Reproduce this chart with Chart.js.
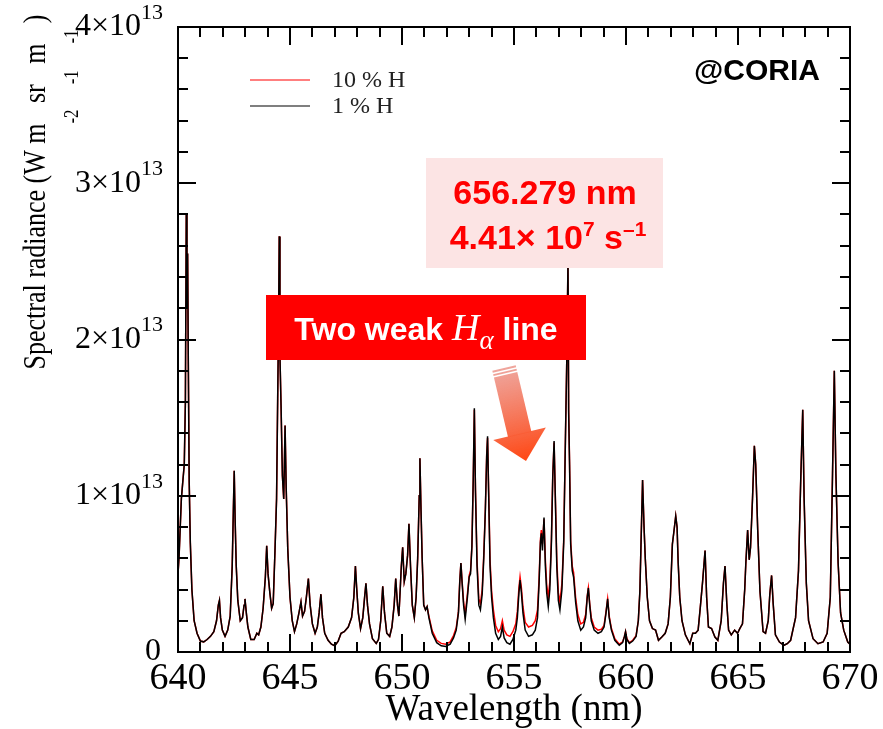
<!DOCTYPE html>
<html><head><meta charset="utf-8">
<script src="https://cdn.jsdelivr.net/npm/chart.js@4/dist/chart.umd.min.js"></script>
<style>html,body{margin:0;padding:0;background:#fff}#wrap{width:883px;height:729px;position:relative}</style>
</head><body><div id="wrap"><canvas id="c" width="883" height="729"></canvas></div>
<script>
// ---- data (wavelength in nm, radiance in units of 1e13 W m^-2 sr^-1 m^-1) ----
const wavelength = [
640.00,640.05,640.10,640.15,640.22,640.28,640.33,640.37,640.40,640.43,
640.46,640.50,640.55,640.62,640.72,640.85,641.00,641.15,641.30,641.45,
641.60,641.72,641.80,641.85,641.90,641.98,642.10,642.22,642.33,642.42,
642.47,642.51,642.55,642.60,642.67,642.78,642.88,642.95,642.99,643.05,
643.12,643.25,643.40,643.52,643.60,643.70,643.80,643.90,643.96,644.02,
644.10,644.18,644.25,644.33,644.40,644.45,644.49,644.52,644.55,644.60,
644.66,644.72,644.78,644.83,644.90,645.00,645.10,645.20,645.30,645.40,
645.49,645.56,645.65,645.73,645.82,645.90,646.00,646.12,646.22,646.30,
646.38,646.45,646.55,646.70,646.85,647.00,647.15,647.28,647.42,647.60,
647.75,647.85,647.92,647.98,648.05,648.15,648.25,648.33,648.39,648.46,
648.55,648.68,648.85,648.95,649.05,649.14,649.22,649.32,649.45,649.55,
649.65,649.72,649.80,649.86,649.92,649.97,650.03,650.10,650.17,650.25,
650.31,650.38,650.46,650.55,650.63,650.70,650.77,650.80,650.85,650.90,
650.97,651.05,651.12,651.20,651.35,651.55,651.75,651.95,652.15,652.30,
652.42,652.52,652.58,652.63,652.68,652.75,652.82,652.92,653.00,653.06,
653.12,653.18,653.23,653.28,653.35,653.43,653.50,653.58,653.65,653.72,
653.78,653.82,653.87,653.93,654.00,654.08,654.18,654.30,654.40,654.48,
654.56,654.68,654.82,654.95,655.08,655.15,655.22,655.27,655.33,655.40,
655.50,655.65,655.82,655.95,656.05,656.12,656.18,656.22,656.27,656.34,
656.40,656.46,656.53,656.60,656.67,656.73,656.79,656.85,656.91,656.98,
657.05,657.14,657.22,657.30,657.36,657.41,657.44,657.48,657.53,657.60,
657.66,657.75,657.85,657.98,658.10,658.20,658.27,658.32,658.38,658.45,
658.58,658.75,658.90,659.02,659.10,659.18,659.25,659.35,659.50,659.70,
659.85,659.93,659.98,660.04,660.15,660.30,660.45,660.55,660.62,660.68,
660.74,660.80,660.86,660.95,661.05,661.18,661.32,661.45,661.60,661.75,
661.88,661.98,662.07,662.13,662.22,662.28,662.33,662.40,662.50,662.65,
662.85,662.98,663.10,663.22,663.32,663.42,663.53,663.60,663.68,663.82,
663.97,664.10,664.25,664.35,664.42,664.50,664.58,664.70,664.85,664.98,
665.08,665.20,665.30,665.35,665.43,665.50,665.56,665.65,665.73,665.79,
665.88,665.98,666.12,666.23,666.35,666.42,666.50,666.57,666.67,666.85,
667.05,667.20,667.35,667.57,667.70,667.80,667.89,667.95,668.05,668.15,
668.35,668.57,668.80,668.98,669.12,669.22,669.30,669.37,669.47,669.58,
669.72,669.90,670.00
];
const radiance1H = [
0.50,0.62,0.80,0.98,1.10,1.20,1.60,2.80,2.20,2.55,
1.86,1.09,0.70,0.40,0.20,0.12,0.07,0.065,0.08,0.10,
0.13,0.20,0.30,0.33,0.22,0.14,0.10,0.14,0.23,0.55,
0.90,1.16,0.85,0.55,0.33,0.20,0.22,0.30,0.34,0.25,
0.16,0.08,0.08,0.12,0.11,0.16,0.28,0.48,0.68,0.50,
0.38,0.28,0.31,0.65,0.98,1.62,2.10,2.66,1.90,1.58,
1.13,0.98,1.45,1.05,0.66,0.35,0.20,0.13,0.18,0.25,
0.32,0.23,0.26,0.35,0.47,0.30,0.18,0.12,0.16,0.25,
0.37,0.22,0.12,0.075,0.05,0.04,0.07,0.12,0.13,0.16,
0.22,0.35,0.55,0.40,0.25,0.15,0.22,0.35,0.44,0.30,
0.18,0.085,0.055,0.08,0.20,0.42,0.25,0.12,0.10,0.16,
0.30,0.47,0.30,0.23,0.40,0.55,0.67,0.45,0.50,0.62,
0.82,0.55,0.30,0.22,0.35,0.60,1.00,1.24,0.90,0.60,
0.30,0.27,0.29,0.22,0.12,0.06,0.04,0.035,0.05,0.09,
0.14,0.25,0.45,0.57,0.45,0.30,0.21,0.35,0.48,0.50,
0.67,1.10,1.56,1.03,0.55,0.30,0.27,0.37,0.60,0.90,
1.25,1.38,1.00,0.55,0.35,0.22,0.12,0.08,0.10,0.16,
0.09,0.06,0.05,0.08,0.14,0.22,0.38,0.46,0.38,0.25,
0.14,0.10,0.11,0.14,0.22,0.44,0.70,0.76,0.65,0.86,
0.55,0.38,0.29,0.40,0.70,1.12,1.35,0.95,0.55,0.33,
0.27,0.40,0.70,1.40,1.90,2.50,1.53,1.20,0.69,0.52,
0.48,0.32,0.20,0.14,0.16,0.22,0.35,0.41,0.30,0.20,
0.14,0.12,0.13,0.16,0.24,0.34,0.22,0.14,0.075,0.043,
0.06,0.10,0.13,0.08,0.055,0.07,0.10,0.20,0.39,0.75,
1.10,0.82,0.60,0.35,0.20,0.15,0.14,0.075,0.096,0.12,
0.18,0.35,0.69,0.76,0.87,0.80,0.57,0.35,0.20,0.11,
0.053,0.12,0.12,0.14,0.29,0.45,0.65,0.35,0.16,0.15,
0.096,0.075,0.20,0.44,0.55,0.31,0.14,0.11,0.14,0.12,
0.15,0.18,0.40,0.57,0.78,0.59,0.67,0.99,1.32,1.20,
0.78,0.39,0.13,0.12,0.20,0.37,0.49,0.31,0.11,0.064,
0.043,0.053,0.075,0.22,0.52,1.10,1.55,0.99,0.44,0.20,
0.085,0.053,0.064,0.12,0.35,1.14,1.80,1.14,0.57,0.25,
0.14,0.064,0.05
];
const radiance10H = [
0.50,0.62,0.80,0.98,1.10,1.20,1.60,2.80,2.20,2.55,
1.86,1.09,0.70,0.40,0.20,0.12,0.07,0.065,0.08,0.10,
0.13,0.20,0.30,0.33,0.22,0.14,0.10,0.14,0.23,0.55,
0.90,1.16,0.85,0.55,0.33,0.20,0.22,0.30,0.34,0.25,
0.16,0.08,0.08,0.12,0.11,0.16,0.28,0.48,0.68,0.50,
0.38,0.28,0.31,0.65,0.98,1.62,2.10,2.66,1.90,1.58,
1.13,0.98,1.45,1.05,0.66,0.35,0.20,0.13,0.18,0.25,
0.32,0.23,0.26,0.35,0.47,0.30,0.18,0.12,0.16,0.25,
0.37,0.22,0.12,0.075,0.05,0.04,0.07,0.12,0.13,0.16,
0.22,0.35,0.55,0.40,0.25,0.15,0.22,0.35,0.44,0.30,
0.18,0.085,0.055,0.08,0.20,0.42,0.25,0.12,0.10,0.16,
0.30,0.47,0.30,0.23,0.40,0.55,0.67,0.45,0.50,0.62,
0.82,0.55,0.30,0.22,0.35,0.60,1.00,1.24,0.90,0.60,
0.30,0.27,0.29,0.23,0.135,0.075,0.055,0.05,0.065,0.105,
0.155,0.26,0.46,0.57,0.46,0.32,0.24,0.37,0.49,0.52,
0.68,1.10,1.55,1.04,0.58,0.34,0.31,0.40,0.62,0.91,
1.26,1.37,1.02,0.59,0.39,0.27,0.17,0.13,0.15,0.20,
0.14,0.11,0.10,0.13,0.18,0.26,0.41,0.48,0.41,0.29,
0.19,0.16,0.17,0.20,0.27,0.47,0.72,0.78,0.69,0.85,
0.59,0.43,0.35,0.45,0.72,1.13,1.34,0.97,0.59,0.38,
0.32,0.44,0.72,1.40,1.90,2.50,1.55,1.22,0.71,0.55,
0.51,0.35,0.24,0.18,0.19,0.24,0.36,0.41,0.31,0.22,
0.16,0.14,0.145,0.17,0.25,0.34,0.23,0.15,0.085,0.05,
0.065,0.10,0.13,0.085,0.06,0.075,0.105,0.20,0.39,0.75,
1.10,0.82,0.60,0.35,0.20,0.15,0.14,0.075,0.096,0.12,
0.18,0.35,0.69,0.76,0.87,0.80,0.57,0.35,0.20,0.11,
0.053,0.12,0.12,0.14,0.29,0.45,0.65,0.35,0.16,0.15,
0.096,0.075,0.20,0.44,0.55,0.31,0.14,0.11,0.14,0.12,
0.15,0.18,0.40,0.57,0.78,0.59,0.67,0.99,1.32,1.20,
0.78,0.39,0.13,0.12,0.20,0.37,0.49,0.31,0.11,0.064,
0.043,0.053,0.075,0.22,0.52,1.10,1.55,0.99,0.44,0.20,
0.085,0.053,0.064,0.12,0.35,1.14,1.80,1.14,0.57,0.25,
0.14,0.064,0.05
];
const seriesLabels = ['10 % H', '1 % H'];
const seriesColors = ['#ff0000', '#000000'];
const xTickValues = [640, 645, 650, 655, 660, 665, 670];
const yTickValues = [0, 1, 2, 3, 4];      // in units of 1e13
const yTickExponent = '13';
const UNIT = 1e13;
const xTitle = 'Wavelength (nm)';
const yTitleParts = [['Spectral radiance (W m', 0], ['-2', 1], [' sr', 0], ['-1', 1], [' m', 0], ['-1', 1], [' )', 0]];
const note1 = '656.279 nm';
const note2 = ['4.41\u00D7 10', '7', ' s', '\u20131'];
const bannerText = ['Two weak ', 'H', '\u03B1', ' line'];
const watermark = '@CORIA';

const toPoints = arr => wavelength.map((w, i) => ({x: w, y: arr[i] * UNIT}));

const overlay = {
  id: 'overlay',
  afterDraw(chart) {
    const ctx = chart.ctx, a = chart.chartArea;
    const xs = chart.scales.x, ys = chart.scales.y;
    ctx.save();
    // frame
    ctx.strokeStyle = '#000'; ctx.lineWidth = 2;
    ctx.strokeRect(a.left, a.top, a.right - a.left, a.bottom - a.top);
    // inward ticks
    ctx.beginPath();
    for (let k = 0; k <= 30; k++) {
      const px = Math.round(xs.getPixelForValue(640 + k));
      const len = k % 5 === 0 ? 18 : 10;
      ctx.moveTo(px, a.bottom); ctx.lineTo(px, a.bottom - len);
      ctx.moveTo(px, a.top); ctx.lineTo(px, a.top + len);
    }
    for (let k = 0; k <= 20; k++) {
      const py = Math.round(ys.getPixelForValue(k * 0.2 * UNIT));
      const len = k % 5 === 0 ? 18 : 10;
      ctx.moveTo(a.left, py); ctx.lineTo(a.left + len, py);
      ctx.moveTo(a.right, py); ctx.lineTo(a.right - len, py);
    }
    ctx.stroke();

    // y tick labels  (n×10^13)
    ctx.fillStyle = '#000'; ctx.textBaseline = 'middle';
    const rightEdge = a.left - 15;
    ys.ticks.forEach(t => {
      const py = ys.getPixelForValue(t.value);
      const n = t.value / UNIT;
      if (n === 0) {
        ctx.font = '32px "Liberation Serif"'; ctx.textAlign = 'right';
        ctx.fillText('0', rightEdge - 2, py);
        return;
      }
      ctx.font = '22px "Liberation Serif"';
      const sw = ctx.measureText(yTickExponent).width;
      ctx.textAlign = 'left';
      ctx.fillText(yTickExponent, rightEdge - sw, py - 14);
      ctx.font = '32px "Liberation Serif"'; ctx.textAlign = 'right';
      ctx.fillText(n + '\u00D710', rightEdge - sw, py);
    });

    // y title (rotated)
    ctx.save();
    ctx.translate(37, 192);
    ctx.rotate(-Math.PI / 2);
    const mainF = '31px "Liberation Serif"', supF = '20px "Liberation Serif"';
    let tot = 0;
    yTitleParts.forEach(p => { ctx.font = p[1] ? supF : mainF; tot += ctx.measureText(p[0]).width; });
    const sx = 355 / tot;
    ctx.scale(sx, 1);
    let cx = -tot / 2;
    ctx.textAlign = 'left'; ctx.textBaseline = 'middle';
    yTitleParts.forEach(p => {
      ctx.font = p[1] ? supF : mainF;
      ctx.fillText(p[0], cx, p[1] ? 36 : 0);
      cx += ctx.measureText(p[0]).width;
    });
    ctx.restore();

    // legend
    const ds = chart.data.datasets;
    ctx.font = '24px "Liberation Serif"'; ctx.textBaseline = 'middle'; ctx.textAlign = 'left';
    [80, 106].forEach((y, i) => {
      ctx.strokeStyle = ds[i].borderColor; ctx.lineWidth = 1.2;
      ctx.beginPath(); ctx.moveTo(250, y); ctx.lineTo(310, y); ctx.stroke();
      ctx.fillStyle = '#222'; ctx.fillText(ds[i].label, 332, y + 1);
    });

    // watermark
    ctx.font = 'bold 30px "Liberation Sans"'; ctx.fillStyle = '#000'; ctx.textAlign = 'center';
    ctx.fillText(watermark, 757, 72);

    // pink note box
    ctx.fillStyle = '#fce4e4';
    ctx.fillRect(426, 158, 237, 110);
    ctx.fillStyle = '#ff0000'; ctx.textAlign = 'left'; ctx.textBaseline = 'alphabetic';
    ctx.font = 'bold 34px "Liberation Sans"';
    let w1 = ctx.measureText(note1).width;
    ctx.fillText(note1, 545 - w1 / 2, 204);
    const big = 'bold 34px "Liberation Sans"', sup = 'bold 21px "Liberation Sans"';
    const parts = [[note2[0], big, 0], [note2[1], sup, -13], [note2[2], big, 0], [note2[3], sup, -13]];
    let tw = 0;
    parts.forEach(p => { ctx.font = p[1]; tw += ctx.measureText(p[0]).width; });
    let x = 548 - tw / 2;
    parts.forEach(p => { ctx.font = p[1]; ctx.fillText(p[0], x, 249 + p[2]); x += ctx.measureText(p[0]).width; });

    // red banner
    ctx.fillStyle = '#ff0000';
    ctx.fillRect(266, 295, 320, 65);
    ctx.fillStyle = '#ffffff';
    const bparts = [[bannerText[0], 'bold 32px "Liberation Sans"', 0], [bannerText[1], 'italic 38px "Liberation Serif"', 0],
                    [bannerText[2], 'italic 27px "Liberation Serif"', 9], [bannerText[3], 'bold 32px "Liberation Sans"', 0]];
    tw = 0; bparts.forEach(p => { ctx.font = p[1]; tw += ctx.measureText(p[0]).width; });
    x = 426 - tw / 2;
    bparts.forEach(p => { ctx.font = p[1]; ctx.fillText(p[0], x, 340 + p[2]); x += ctx.measureText(p[0]).width; });

    // gradient arrow
    const tail = {x: 504, y: 368}, tip = {x: 526, y: 461};
    const dx = tip.x - tail.x, dy = tip.y - tail.y, L = Math.hypot(dx, dy);
    const ux = dx / L, uy = dy / L, px = uy, py = -ux;
    const headLen = 28, headHalf = 27, sh = 12;
    const grad = ctx.createLinearGradient(tail.x, tail.y, tip.x, tip.y);
    grad.addColorStop(0, 'rgba(236,150,140,0.85)');
    grad.addColorStop(1, '#ff4612');
    ctx.fillStyle = grad;
    const bar = (s0, s1) => {
      const ax = tail.x + ux * s0, ay = tail.y + uy * s0, bx = tail.x + ux * s1, by = tail.y + uy * s1;
      ctx.beginPath();
      ctx.moveTo(ax + px * sh, ay + py * sh); ctx.lineTo(bx + px * sh, by + py * sh);
      ctx.lineTo(bx - px * sh, by - py * sh); ctx.lineTo(ax - px * sh, ay - py * sh);
      ctx.closePath(); ctx.fill();
    };
    bar(0, 2); bar(3.5, 5.5); bar(7, L - headLen + 1);
    const hbx = tip.x - ux * headLen, hby = tip.y - uy * headLen;
    ctx.beginPath();
    ctx.moveTo(hbx + px * headHalf, hby + py * headHalf);
    ctx.lineTo(tip.x, tip.y);
    ctx.lineTo(hbx - px * headHalf, hby - py * headHalf);
    ctx.closePath(); ctx.fill();
    ctx.restore();
  }
};

new Chart(document.getElementById('c'), {
  type: 'line',
  data: {
    datasets: [
      {label: seriesLabels[0], data: toPoints(radiance10H), borderColor: seriesColors[0], borderWidth: 1.5, pointRadius: 0, tension: 0, order: 2},
      {label: seriesLabels[1], data: toPoints(radiance1H), borderColor: seriesColors[1], borderWidth: 1.5, pointRadius: 0, tension: 0, order: 1}
    ]
  },
  options: {
    responsive: false, animation: false, devicePixelRatio: 1,
    layout: {padding: {left: 0, right: 33, top: 27, bottom: 0}},
    plugins: {legend: {display: false}, tooltip: {enabled: false}},
    scales: {
      x: {
        type: 'linear', min: 640, max: 670,
        afterBuildTicks: s => { s.ticks = xTickValues.map(v => ({value: v})); },
        grid: {display: false, drawTicks: false}, border: {display: false},
        ticks: {font: {family: 'Liberation Serif', size: 38}, color: '#000', padding: 4, maxRotation: 0, autoSkip: false},
        title: {display: true, text: xTitle, color: '#000', font: {family: 'Liberation Serif', size: 37, lineHeight: 1}, padding: 0},
        afterFit: s => { s.height = 77; }
      },
      y: {
        min: 0, max: 4 * UNIT,
        afterBuildTicks: s => { s.ticks = yTickValues.map(v => ({value: v * UNIT})); },
        grid: {display: false, drawTicks: false}, border: {display: false},
        ticks: {display: false},
        title: {display: false},
        afterFit: s => { s.width = 178; }
      }
    }
  },
  plugins: [overlay]
});
</script></body></html>
